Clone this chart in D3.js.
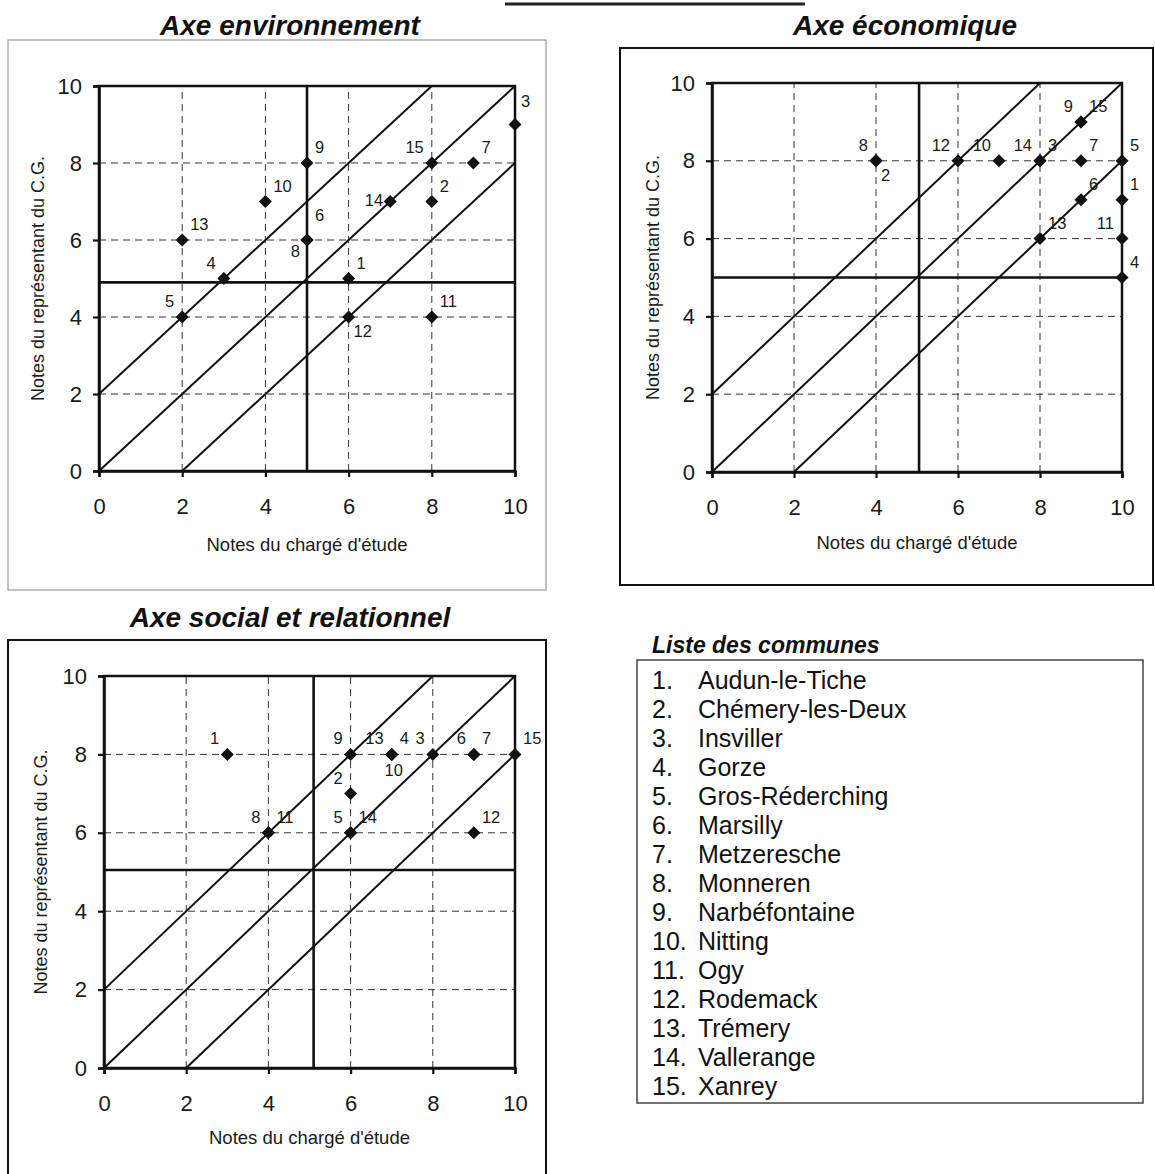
<!DOCTYPE html>
<html><head><meta charset="utf-8">
<script src="https://cdn.jsdelivr.net/npm/d3@7"></script>
<style>
html,body{margin:0;padding:0;background:#fff;}
svg{display:block;font-family:"Liberation Sans",Arial,sans-serif;}
</style></head>
<body>
<svg id="c" width="1155" height="1174"></svg>
<script>
// ---------- DATA ----------
const communes = ["Audun-le-Tiche","Chémery-les-Deux","Insviller","Gorze","Gros-Réderching","Marsilly","Metzeresche","Monneren","Narbéfontaine","Nitting","Ogy","Rodemack","Trémery","Vallerange","Xanrey"];
const ids = d3.range(1, 16);
const tickValues = [0, 2, 4, 6, 8, 10];
const diagonalOffsets = [2, 0, -2];

// Axe environnement
const envX = [6, 8, 10, 3, 2, 5, 9, 5, 5, 4, 8, 6, 2, 7, 8];
const envY = [5, 7, 9, 5, 4, 6, 8, 6, 8, 7, 4, 4, 6, 7, 8];
const envThreshold = [5, 4.9];
// Axe économique
const ecoX = [10, 4, 8, 10, 10, 9, 9, 4, 9, 7, 10, 6, 8, 8, 9];
const ecoY = [7, 8, 8, 5, 8, 7, 8, 8, 9, 8, 6, 8, 6, 8, 9];
const ecoThreshold = [5.05, 5];
// Axe social et relationnel
const socX = [3, 6, 8, 7, 6, 9, 9, 4, 6, 7, 4, 9, 7, 6, 10];
const socY = [8, 7, 8, 8, 6, 8, 8, 6, 8, 8, 6, 6, 8, 6, 8];
const socThreshold = [5.1, 5.05];

// label placement around each marker (ar above-right, al above-left, bl below-left, br below-right, l left, b below)
const envLabelSide = ["ar","ar","ar3","al","al","ar6","ar","bl","ar","ar","ar","br","ar","l","al"];
const ecoLabelSide = ["ar","br","ar","ar","ar","ar","ar","al","al","al","al","al","ar","al","ar"];
const socLabelSide = ["al","al","al","ar","al","al","ar","al","al","b","ar","ar","al","ar","ar"];

// ---------- DRAW ----------
const svg = d3.select("#c");
const ink = "#111";

// fragment of header line at the very top
svg.append("line").attr("x1",505).attr("x2",805).attr("y1",4).attr("y2",4)
  .attr("stroke","#222").attr("stroke-width",3);

const panels = [
  {title:"Axe environnement", tx:290, ty:35, frame:[8,40,538,550], frameStroke:"#999", frameW:1.2,
   px:[99,515], py:[471,86], xs:envX, ys:envY, thr:envThreshold, side:envLabelSide, ytitleX:44, xtitleY:551},
  {title:"Axe économique", tx:905, ty:35, frame:[620,48,533,537], frameStroke:"#111", frameW:2,
   px:[712,1122], py:[472,83], xs:ecoX, ys:ecoY, thr:ecoThreshold, side:ecoLabelSide, ytitleX:659, xtitleY:549},
  {title:"Axe social et relationnel", tx:290, ty:627, frame:[8,640,538,560], frameStroke:"#111", frameW:2,
   px:[104,515], py:[1068,676], xs:socX, ys:socY, thr:socThreshold, side:socLabelSide, ytitleX:47, xtitleY:1144}
];

const offsets = {
  ar:{dx:8, dy:-10, a:"start"},
  ar3:{dx:6, dy:-18, a:"start"},
  ar6:{dx:8, dy:-19, a:"start"},
  al:{dx:-8, dy:-10, a:"end"},
  bl:{dx:-7, dy:17, a:"end"},
  br:{dx:5, dy:20, a:"start"},
  l:{dx:-7, dy:4, a:"end"},
  b:{dx:2, dy:22, a:"middle"}
};

panels.forEach((p, pi) => {
  const g = svg.append("g");
  // frame
  g.append("rect").attr("x",p.frame[0]).attr("y",p.frame[1]).attr("width",p.frame[2]).attr("height",p.frame[3])
    .attr("fill","none").attr("stroke",p.frameStroke).attr("stroke-width",p.frameW);
  // title
  g.append("text").attr("x",p.tx).attr("y",p.ty).attr("text-anchor","middle")
    .attr("font-size",28).attr("font-weight","bold").attr("font-style","italic").attr("fill",ink).text(p.title);

  const x = d3.scaleLinear().domain([0,10]).range(p.px);
  const y = d3.scaleLinear().domain([0,10]).range(p.py);

  // grid
  const grid = g.append("g").attr("stroke","#333").attr("stroke-width",1).attr("stroke-dasharray","7,5");
  tickValues.filter(v => v>0 && v<10).forEach(v => {
    grid.append("line").attr("x1",x(0)).attr("x2",x(10)).attr("y1",y(v)).attr("y2",y(v));
    grid.append("line").attr("x1",x(v)).attr("x2",x(v)).attr("y1",y(0)).attr("y2",y(10));
  });

  // plot border (top/right)
  g.append("rect").attr("x",x(0)).attr("y",y(10)).attr("width",x(10)-x(0)).attr("height",y(0)-y(10))
    .attr("fill","none").attr("stroke",ink).attr("stroke-width",2.5);

  // diagonals clipped to [0,10]
  diagonalOffsets.forEach(o => {
    const x0 = Math.max(0, -o), x1 = Math.min(10, 10 - o);
    g.append("line").attr("x1",x(x0)).attr("y1",y(x0+o)).attr("x2",x(x1)).attr("y2",y(x1+o))
      .attr("stroke",ink).attr("stroke-width",2);
  });

  // thresholds
  g.append("line").attr("x1",x(p.thr[0])).attr("x2",x(p.thr[0])).attr("y1",y(0)).attr("y2",y(10))
    .attr("stroke",ink).attr("stroke-width",2.6);
  g.append("line").attr("x1",x(0)).attr("x2",x(10)).attr("y1",y(p.thr[1])).attr("y2",y(p.thr[1]))
    .attr("stroke",ink).attr("stroke-width",2.6);

  // axes
  const ax = g.append("g").attr("transform",`translate(0,${y(0)})`)
    .call(d3.axisBottom(x).tickValues(tickValues).tickSize(6).tickPadding(21));
  const ay = g.append("g").attr("transform",`translate(${x(0)},0)`)
    .call(d3.axisLeft(y).tickValues(tickValues).tickSize(6).tickPadding(11));
  [ax, ay].forEach(a => {
    a.select(".domain").attr("stroke",ink).attr("stroke-width",2.6);
    a.selectAll(".tick line").attr("stroke",ink).attr("stroke-width",2.2);
    a.selectAll(".tick text").attr("font-size",22).attr("fill","#1a1a1a")
      .attr("font-family","'Liberation Sans',Arial,sans-serif");
  });

  // axis titles
  g.append("text").attr("x",(x(0)+x(10))/2).attr("y",p.xtitleY).attr("text-anchor","middle")
    .attr("font-size",18.5).attr("fill","#1a1a1a").text("Notes du chargé d'étude");
  g.append("text").attr("transform",`translate(${p.ytitleX},${(y(0)+y(10))/2}) rotate(-90)`)
    .attr("text-anchor","middle").attr("font-size",18).attr("fill","#1a1a1a").text("Notes du représentant du C.G.");

  // markers
  const pts = ids.map((id,i) => ({id, x:p.xs[i], y:p.ys[i], side:p.side[i]}));
  g.selectAll("path.pt").data(pts).join("path").attr("class","pt")
    .attr("transform", d => `translate(${x(d.x)},${y(d.y)})`)
    .attr("d","M0,-6.5L6.5,0L0,6.5L-6.5,0Z").attr("fill",ink);
  g.selectAll("text.lab").data(pts).join("text").attr("class","lab")
    .attr("x", d => x(d.x) + offsets[d.side].dx)
    .attr("y", d => y(d.y) + offsets[d.side].dy)
    .attr("text-anchor", d => offsets[d.side].a)
    .attr("font-size",16.5).attr("fill","#1a1a1a").text(d => d.id);
});

// legend
const lg = svg.append("g");
lg.append("text").attr("x",652).attr("y",653).attr("font-size",23).attr("font-weight","bold")
  .attr("font-style","italic").attr("fill",ink).text("Liste des communes");
lg.append("rect").attr("x",637).attr("y",660).attr("width",506).attr("height",443)
  .attr("fill","none").attr("stroke","#444").attr("stroke-width",1.5);
const ly = d3.scaleLinear().domain([1,15]).range([689,1095]);
lg.selectAll("text.num").data(ids).join("text").attr("class","num")
  .attr("x",652).attr("y",d => ly(d)).attr("font-size",25).attr("fill",ink).text(d => d + ".");
lg.selectAll("text.name").data(ids).join("text").attr("class","name")
  .attr("x",698).attr("y",d => ly(d)).attr("font-size",25).attr("fill",ink).text(d => communes[d-1]);
</script>
</body></html>
